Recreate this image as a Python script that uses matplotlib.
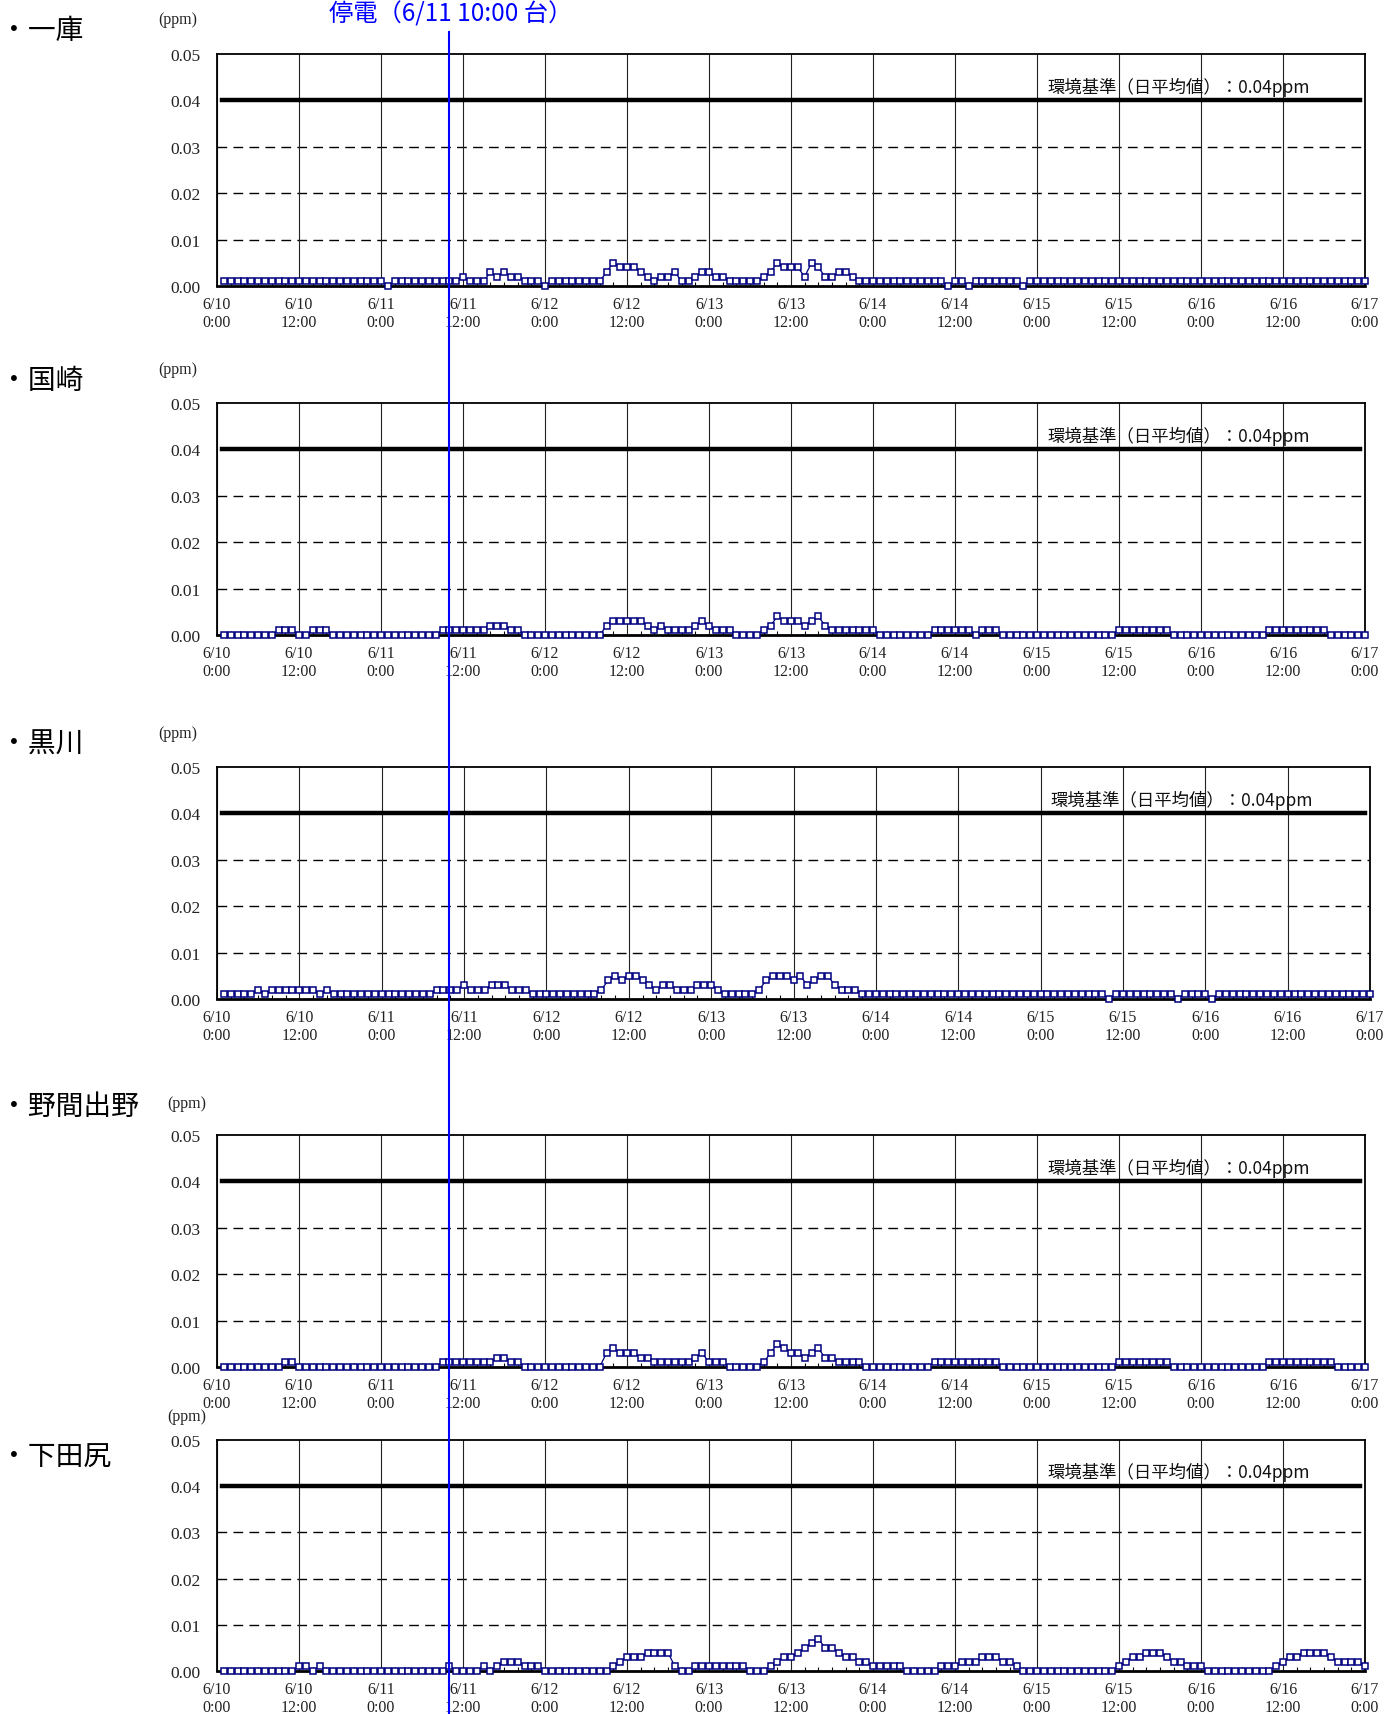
import matplotlib
matplotlib.use("Agg")
import matplotlib.pyplot as plt
from matplotlib.lines import Line2D

# 6/10 1:00 ～ 6/17 0:00 の1時間値（時刻 = 6/10 0:00 からの経過時間）
hours = list(range(1, 169))
stations = ["一庫", "国崎", "黒川", "野間出野", "下田尻"]

# 1時間値、単位 0.001 ppm（1行 = 1日 24時間）
ikko = [
    1, 1, 1, 1, 1, 1, 1, 1, 1, 1, 1, 1, 1, 1, 1, 1, 1, 1, 1, 1, 1, 1, 1, 1,
    0, 1, 1, 1, 1, 1, 1, 1, 1, 1, 1, 2, 1, 1, 1, 3, 2, 3, 2, 2, 1, 1, 1, 0,
    1, 1, 1, 1, 1, 1, 1, 1, 3, 5, 4, 4, 4, 3, 2, 1, 2, 2, 3, 1, 1, 2, 3, 3,
    2, 2, 1, 1, 1, 1, 1, 2, 3, 5, 4, 4, 4, 2, 5, 4, 2, 2, 3, 3, 2, 1, 1, 1,
    1, 1, 1, 1, 1, 1, 1, 1, 1, 1, 0, 1, 1, 0, 1, 1, 1, 1, 1, 1, 1, 0, 1, 1,
    1, 1, 1, 1, 1, 1, 1, 1, 1, 1, 1, 1, 1, 1, 1, 1, 1, 1, 1, 1, 1, 1, 1, 1,
    1, 1, 1, 1, 1, 1, 1, 1, 1, 1, 1, 1, 1, 1, 1, 1, 1, 1, 1, 1, 1, 1, 1, 1,
]
kunisaki = [
    0, 0, 0, 0, 0, 0, 0, 0, 1, 1, 1, 0, 0, 1, 1, 1, 0, 0, 0, 0, 0, 0, 0, 0,
    0, 0, 0, 0, 0, 0, 0, 0, 1, 1, 1, 1, 1, 1, 1, 2, 2, 2, 1, 1, 0, 0, 0, 0,
    0, 0, 0, 0, 0, 0, 0, 0, 2, 3, 3, 3, 3, 3, 2, 1, 2, 1, 1, 1, 1, 2, 3, 2,
    1, 1, 1, 0, 0, 0, 0, 1, 2, 4, 3, 3, 3, 2, 3, 4, 2, 1, 1, 1, 1, 1, 1, 1,
    0, 0, 0, 0, 0, 0, 0, 0, 1, 1, 1, 1, 1, 1, 0, 1, 1, 1, 0, 0, 0, 0, 0, 0,
    0, 0, 0, 0, 0, 0, 0, 0, 0, 0, 0, 1, 1, 1, 1, 1, 1, 1, 1, 0, 0, 0, 0, 0,
    0, 0, 0, 0, 0, 0, 0, 0, 0, 1, 1, 1, 1, 1, 1, 1, 1, 1, 0, 0, 0, 0, 0, 0,
]
kurokawa = [
    1, 1, 1, 1, 1, 2, 1, 2, 2, 2, 2, 2, 2, 2, 1, 2, 1, 1, 1, 1, 1, 1, 1, 1,
    1, 1, 1, 1, 1, 1, 1, 2, 2, 2, 2, 3, 2, 2, 2, 3, 3, 3, 2, 2, 2, 1, 1, 1,
    1, 1, 1, 1, 1, 1, 1, 2, 4, 5, 4, 5, 5, 4, 3, 2, 3, 3, 2, 2, 2, 3, 3, 3,
    2, 1, 1, 1, 1, 1, 2, 4, 5, 5, 5, 4, 5, 3, 4, 5, 5, 3, 2, 2, 2, 1, 1, 1,
    1, 1, 1, 1, 1, 1, 1, 1, 1, 1, 1, 1, 1, 1, 1, 1, 1, 1, 1, 1, 1, 1, 1, 1,
    1, 1, 1, 1, 1, 1, 1, 1, 1, 0, 1, 1, 1, 1, 1, 1, 1, 1, 1, 0, 1, 1, 1, 1,
    0, 1, 1, 1, 1, 1, 1, 1, 1, 1, 1, 1, 1, 1, 1, 1, 1, 1, 1, 1, 1, 1, 1, 1,
]
nomaideno = [
    0, 0, 0, 0, 0, 0, 0, 0, 0, 1, 1, 0, 0, 0, 0, 0, 0, 0, 0, 0, 0, 0, 0, 0,
    0, 0, 0, 0, 0, 0, 0, 0, 1, 1, 1, 1, 1, 1, 1, 1, 2, 2, 1, 1, 0, 0, 0, 0,
    0, 0, 0, 0, 0, 0, 0, 0, 3, 4, 3, 3, 3, 2, 2, 1, 1, 1, 1, 1, 1, 2, 3, 1,
    1, 1, 0, 0, 0, 0, 0, 1, 3, 5, 4, 3, 3, 2, 3, 4, 2, 2, 1, 1, 1, 1, 0, 0,
    0, 0, 0, 0, 0, 0, 0, 0, 1, 1, 1, 1, 1, 1, 1, 1, 1, 1, 0, 0, 0, 0, 0, 0,
    0, 0, 0, 0, 0, 0, 0, 0, 0, 0, 0, 1, 1, 1, 1, 1, 1, 1, 1, 0, 0, 0, 0, 0,
    0, 0, 0, 0, 0, 0, 0, 0, 0, 1, 1, 1, 1, 1, 1, 1, 1, 1, 1, 0, 0, 0, 0, 0,
]
shimodajiri = [
    0, 0, 0, 0, 0, 0, 0, 0, 0, 0, 0, 1, 1, 0, 1, 0, 0, 0, 0, 0, 0, 0, 0, 0,
    0, 0, 0, 0, 0, 0, 0, 0, 0, 1, 0, 0, 0, 0, 1, 0, 1, 2, 2, 2, 1, 1, 1, 0,
    0, 0, 0, 0, 0, 0, 0, 0, 0, 1, 2, 3, 3, 3, 4, 4, 4, 4, 1, 0, 0, 1, 1, 1,
    1, 1, 1, 1, 1, 0, 0, 0, 1, 2, 3, 3, 4, 5, 6, 7, 5, 5, 4, 3, 3, 2, 2, 1,
    1, 1, 1, 1, 0, 0, 0, 0, 0, 1, 1, 1, 2, 2, 2, 3, 3, 3, 2, 2, 1, 0, 0, 0,
    0, 0, 0, 0, 0, 0, 0, 0, 0, 0, 0, 1, 2, 3, 3, 4, 4, 4, 3, 2, 2, 1, 1, 1,
    0, 0, 0, 0, 0, 0, 0, 0, 0, 0, 1, 2, 3, 3, 4, 4, 4, 4, 3, 2, 2, 2, 2, 1,
]
series = [ikko, kunisaki, kurokawa, nomaideno, shimodajiri]

env_std = 0.04          # 環境基準（日平均値）
outage_hour = 34        # 6/11 10:00
tick_hours = list(range(0, 169, 12))
tick_labels = ["6/10\n0:00", "6/10\n12:00", "6/11\n0:00", "6/11\n12:00",
               "6/12\n0:00", "6/12\n12:00", "6/13\n0:00", "6/13\n12:00",
               "6/14\n0:00", "6/14\n12:00", "6/15\n0:00", "6/15\n12:00",
               "6/16\n0:00", "6/16\n12:00", "6/17\n0:00"]
y_ticks = [0.0, 0.01, 0.02, 0.03, 0.04, 0.05]

W, H = 1384, 1715
fig = plt.figure(figsize=(W / 100, H / 100), dpi=100)

jp = ["Noto Sans CJK JP", "DejaVu Sans"]
serif = "Liberation Serif"

# パネル位置（ピクセル）: 左, 右, 上, 下
boxes = [(217, 1365, 55, 287), (217, 1365, 404, 636), (217, 1370, 768, 1000),
         (217, 1365, 1136, 1368), (217, 1365, 1441, 1672)]
label_y = [31, 381, 745, 1107, 1458]
ppm_pos = [(178, 20), (178, 370), (178, 734), (187, 1104), (187, 1417)]

axes = []
for i, (l, r, t, b) in enumerate(boxes):
    ax = fig.add_axes([l / W, 1 - b / H, (r - l) / W, (b - t) / H])
    vals = [v * 0.001 for v in series[i]]

    ax.set_xlim(0, 168)
    ax.set_ylim(0, 0.05)
    for g in (0.01, 0.02, 0.03):
        ax.axhline(g, color="black", lw=1.0, dashes=(7, 4.5), zorder=1)
    ax.axhline(env_std, xmin=0.004, xmax=0.996, color="black", lw=3.2, zorder=2)
    ax.grid(axis="x", color="#222222", lw=0.8, zorder=1)

    ax.plot(hours, vals, color="#000080", lw=0.9, marker="s", ms=4.5,
            mfc="white", mec="#000080", mew=1.1, zorder=3, clip_on=False)

    ax.set_xticks(tick_hours)
    ax.set_xticklabels(tick_labels, fontfamily=serif, fontsize=11.5,
                       linespacing=1.15, color="#222222")
    ax.set_xticks(range(0, 169, 2), minor=True)
    ax.tick_params(axis="x", which="major", length=0, pad=7)
    ax.tick_params(axis="x", which="minor", direction="in", length=3, width=0.8)
    ax.set_yticks(y_ticks)
    ax.set_yticklabels(["%.2f" % v for v in y_ticks], fontfamily=serif,
                       fontsize=12.5, color="#222222")
    ax.tick_params(axis="y", length=0, pad=12)
    for s in ax.spines.values():
        s.set_color("black")
        s.set_linewidth(1.3)
    ax.spines["bottom"].set_linewidth(2.0)

    ax.text(121.5, 0.0431, "環境基準（日平均値）：0.04ppm", fontfamily=jp,
            fontsize=12.5, va="center", ha="left", color="#111111", zorder=4)

    fig.text(0, 1 - label_y[i] / H, "・" + stations[i], fontfamily=jp,
             fontsize=20, va="center", ha="left")
    fig.text(ppm_pos[i][0] / W, 1 - ppm_pos[i][1] / H, "(ppm)", fontfamily=serif,
             fontsize=11.5, va="center", ha="center", color="#222222")
    axes.append(ax)

# 停電の縦線（全パネルを貫く）
x_fig = (axes[0].transData + fig.transFigure.inverted()).transform((outage_hour, 0))[0]
fig.add_artist(Line2D([x_fig, x_fig], [1 - 33 / H, 0], color="#0000FF", lw=1.5, zorder=10))
fig.text(329 / W, 1 - 15 / H, "停電（6/11 10:00 台）", fontfamily=jp, fontsize=17.5,
         color="#0000FF", va="center", ha="left")

fig.savefig("out.png", dpi=100)
